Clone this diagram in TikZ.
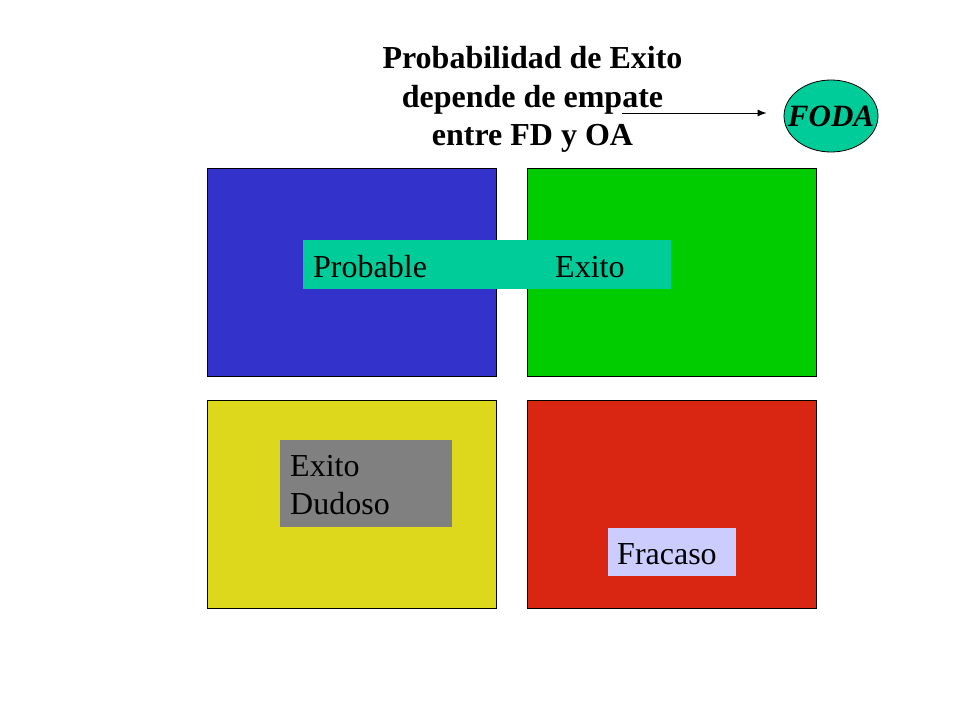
\documentclass[tikz,border=0pt]{standalone}
\usepackage{fontspec}
\setmainfont{Liberation Serif}
\usetikzlibrary{arrows.meta,shapes.geometric}
\definecolor{cblue}{HTML}{3333CC}
\definecolor{cgreen}{HTML}{00CC00}
\definecolor{cyellow}{HTML}{DDD81C}
\definecolor{cred}{HTML}{D92613}
\definecolor{cteal}{HTML}{00CC99}
\definecolor{cgray}{HTML}{808080}
\definecolor{clav}{HTML}{CCCCFF}
\begin{document}
\begin{tikzpicture}[x=1pt,y=-1pt,
  quad/.style={draw=black,line width=1pt,inner sep=0pt,minimum width=289pt,minimum height=208pt,anchor=north west},
  band/.style={inner sep=0pt,anchor=north west},
  lbl/.style={inner sep=0pt,anchor=base west,font=\fontsize{32}{38.4}\selectfont}]
\useasboundingbox (0,0) rectangle (960,720);
\fill[white] (0,0) rectangle (960,720);
% quadrants
\node[quad,fill=cblue] (q1) at (207,168) {};
\node[quad,fill=cgreen] (q2) at (527,168) {};
\node[quad,fill=cyellow] (q3) at (207,400) {};
\node[quad,fill=cred] (q4) at (527,400) {};
% bands
\node[band,fill=cteal,minimum width=368pt,minimum height=49pt] (b1) at (303,240) {};
\node[band,fill=cgray,minimum width=172pt,minimum height=87pt] (b2) at (280,440) {};
\node[band,fill=clav,minimum width=128pt,minimum height=48pt] (b3) at (608,528) {};
% labels
\node[lbl] (t1) at (313,277) {Probable};
\node[lbl] (t2) at (555,277) {Exito};
\node[lbl] (t3) at (290,476) {Exito};
\node[lbl] (t4) at (290,514) {Dudoso};
\node[lbl] (t5) at (617,564) {Fracaso};
% title
\node[inner sep=0pt,anchor=north,align=center,font=\fontsize{32}{38.5}\selectfont\bfseries] (title) at (532.5,46.5)
  {Probabilidad de Exito\\depende de empate\\entre FD y OA};
% FODA
\node[ellipse,draw=black,line width=0.8pt,fill=cteal,minimum width=94pt,minimum height=72pt,inner sep=0pt] (foda) at (831,116) {};
\node[inner sep=0pt,font=\fontsize{31}{36}\selectfont\bfseries\itshape] (fodat) at (foda.center) {FODA};
\coordinate (as) at (622,113);
\draw[line width=1pt,-{Latex[length=9pt,width=7pt]},shorten >=17pt] (as) -- (as -| foda.west);
\end{tikzpicture}
\end{document}
